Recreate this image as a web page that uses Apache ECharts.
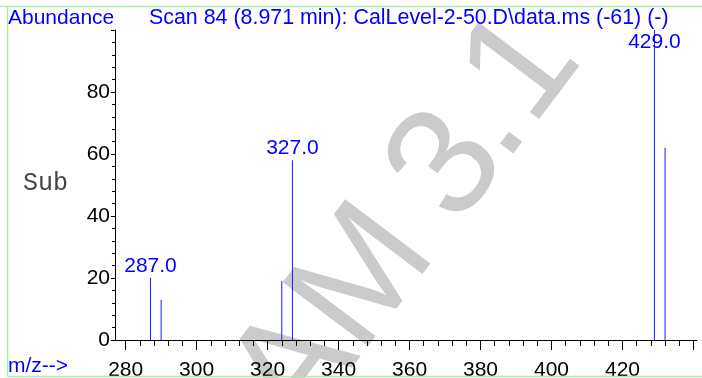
<!DOCTYPE html>
<html>
<head>
<meta charset="utf-8">
<script src="https://cdn.jsdelivr.net/npm/echarts@6.0.0/dist/echarts.min.js"></script>
<style>
  html, body { margin: 0; padding: 0; background: #fff; }
  #chart { width: 702px; height: 378px; }
</style>
</head>
<body>
<div id="chart"></div>
<script>
// spectrum peaks (m/z, abundance %)
const mzValues = [287, 290, 324, 327, 429, 432];
const abundance = [20, 13, 19, 58, 100, 62];
const labelledPeaks = [287, 327, 429];

// axis ticks
const xTickLabels = [280, 300, 320, 340, 360, 380, 400, 420];
const xMajorTicks = [280, 300, 320, 340, 360, 380, 400, 420, 440];
const xMinorTicks = [280, 284, 288, 292, 296, 300, 304, 308, 312, 316, 320, 324, 328, 332, 336,
  340, 344, 348, 352, 356, 360, 364, 368, 372, 376, 380, 384, 388, 392, 396, 400, 404, 408,
  412, 416, 420, 424, 428, 432, 436, 440];

const titleText = 'Scan 84 (8.971 min): CalLevel-2-50.D\\data.ms (-61) (-)';
const FONT = '"Liberation Sans", Arial, Helvetica, sans-serif';
const BLUE = '#0000ff';
const GREEN = '#a6efa6';

const chart = echarts.init(document.getElementById('chart'));

const peakData = mzValues.map((mz, i) => {
  const item = { value: [mz, abundance[i]] };
  if (labelledPeaks.indexOf(mz) >= 0) {
    item.label = {
      show: true,
      formatter: mz.toFixed(1),
      position: abundance[i] > 90 ? 'insideTop' : 'top',
      distance: abundance[i] > 90 ? 2 : 1
    };
  }
  return item;
});

// watermark glyphs, laid along a slanted baseline
function wmGlyph(ch, along) {
  return {
    type: 'text', x: along, y: 24,
    style: {
      text: ch, fill: '#cbcbcb', fontSize: 155, fontFamily: FONT,
      align: 'center', verticalAlign: 'middle'
    }
  };
}

chart.setOption({
  animation: false,
  backgroundColor: '#fff',
  grid: { left: 115, right: 5, top: 30, bottom: 38, outerBoundsMode: 'none' },
  xAxis: [{
    type: 'value',
    min: 277,
    max: 441,
    axisLine: { show: true, lineStyle: { color: '#000', width: 1 } },
    axisTick: { show: true, customValues: xMajorTicks, length: 10, lineStyle: { color: '#000' } },
    axisLabel: {
      customValues: xTickLabels, margin: 20,
      color: '#000', fontSize: 21, fontFamily: FONT
    },
    splitLine: { show: false }
  }, {
    type: 'value',
    position: 'bottom',
    min: 277,
    max: 441,
    axisLine: { show: false },
    axisTick: { show: true, customValues: xMinorTicks, length: 6, lineStyle: { color: '#000' } },
    axisLabel: { show: false },
    splitLine: { show: false }
  }],
  yAxis: {
    type: 'value',
    min: 0,
    max: 100,
    interval: 20,
    axisLine: { show: true, lineStyle: { color: '#000', width: 1 } },
    axisTick: { show: true, length: 4, lineStyle: { color: '#000' } },
    minorTick: { show: true, splitNumber: 5, length: 3, lineStyle: { color: '#000' } },
    axisLabel: {
      margin: 5, color: '#000', fontSize: 21, fontFamily: FONT,
      showMaxLabel: false
    },
    splitLine: { show: false }
  },
  series: [{
    type: 'bar',
    xAxisIndex: 0,
    barWidth: 1,
    itemStyle: { color: '#1a1aff' },
    label: { color: BLUE, fontSize: 21, fontFamily: FONT },
    data: peakData,
    z: 3
  }],
  graphic: [
    {
      type: 'group', z: -10, x: 430, y: 153, rotation: 53 * Math.PI / 180,
      children: [
        wmGlyph('A', -255),
        wmGlyph('M', -140),
        wmGlyph('3', 0),
        wmGlyph('.', 57),
        wmGlyph('1', 124)
      ]
    },
    // panel frame
    { type: 'line', z: 1, shape: { x1: 0, y1: 6.5, x2: 702, y2: 6.5 }, style: { stroke: GREEN, lineWidth: 1.5 } },
    { type: 'line', z: 1, shape: { x1: 7.5, y1: 6.5, x2: 7.5, y2: 376.5 }, style: { stroke: GREEN, lineWidth: 1.5 } },
    { type: 'line', z: 1, shape: { x1: 7.5, y1: 376.5, x2: 702, y2: 376.5 }, style: { stroke: GREEN, lineWidth: 1.5 } },
    // headings
    {
      type: 'text', x: 8, y: 18,
      style: { text: 'Abundance', fill: BLUE, fontSize: 21, fontFamily: FONT, verticalAlign: 'middle' }
    },
    {
      type: 'text', x: 149, y: 18,
      style: { text: titleText, fill: BLUE, fontSize: 21.4, fontFamily: FONT, verticalAlign: 'middle' }
    },
    {
      type: 'text', x: 8, y: 366,
      style: { text: 'm/z-->', fill: BLUE, fontSize: 21, fontFamily: FONT, verticalAlign: 'middle' }
    },
    {
      type: 'text', x: 23, y: 183,
      style: { text: 'Sub', fill: '#444', fontSize: 25, fontFamily: '"Liberation Mono", "Courier New", monospace', verticalAlign: 'middle' }
    }
  ]
});
</script>
</body>
</html>
